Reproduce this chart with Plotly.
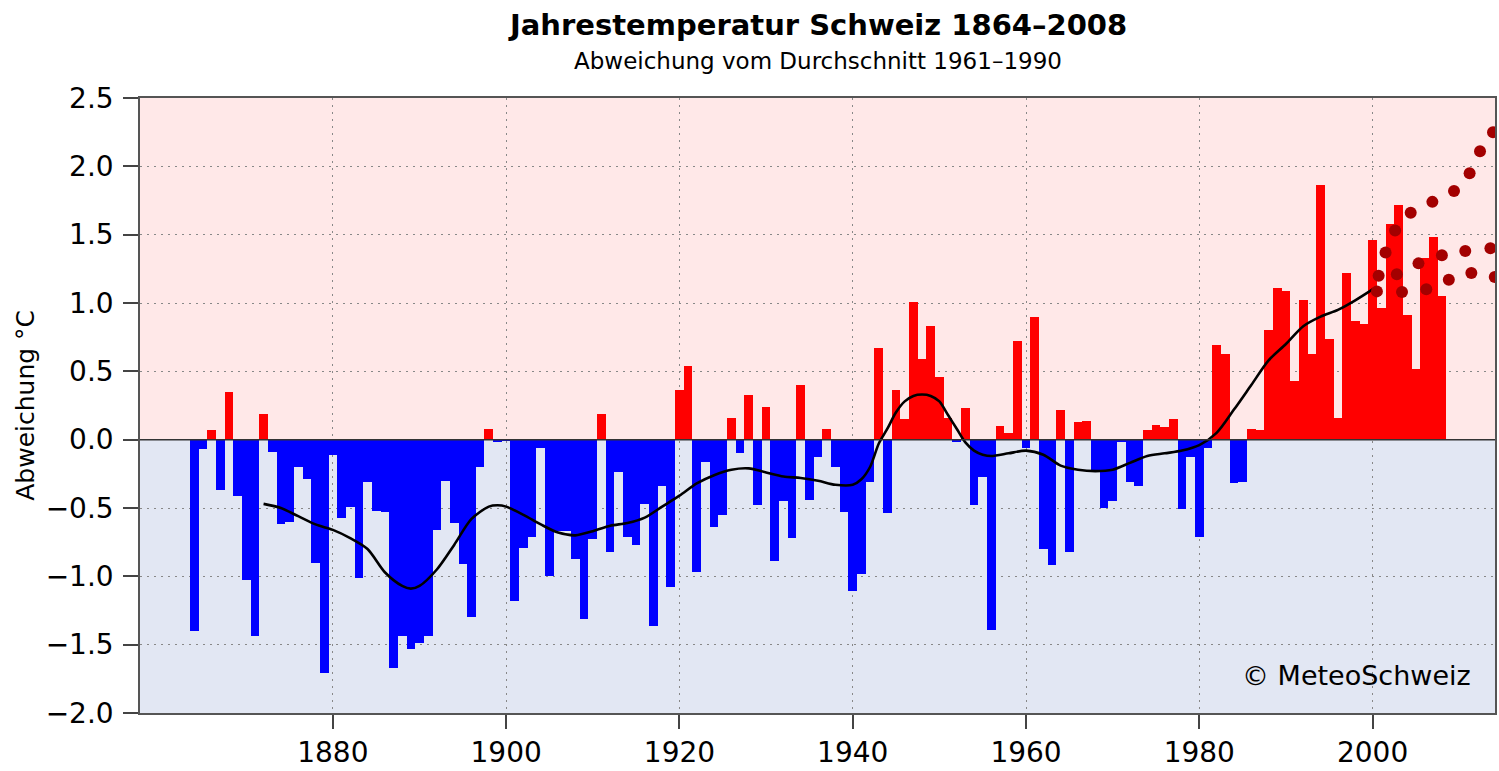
import plotly.graph_objects as go

# annual temperature deviation from 1961-1990 mean, Switzerland
years = list(range(1864, 2009))
anomaly = [
    -1.40, -0.07, 0.07, -0.37, 0.35, -0.41,                       # 1864-1869
    -1.03, -1.44, 0.19, -0.09, -0.62, -0.60, -0.20, -0.29, -0.90, -1.71,  # 1870s
    -0.11, -0.57, -0.49, -1.01, -0.31, -0.52, -0.53, -1.67, -1.44, -1.53,  # 1880s
    -1.49, -1.44, -0.66, -0.30, -0.61, -0.91, -1.30, -0.20, 0.08, -0.02,   # 1890s
    -0.01, -1.18, -0.79, -0.71, -0.06, -1.00, -0.67, -0.67, -0.87, -1.31,  # 1900s
    -0.73, 0.19, -0.82, -0.24, -0.71, -0.77, -0.47, -1.36, -0.34, -1.08,   # 1910s
    0.36, 0.54, -0.97, -0.16, -0.64, -0.55, 0.16, -0.10, 0.33, -0.48,      # 1920s
    0.24, -0.89, -0.45, -0.72, 0.40, -0.44, -0.13, 0.08, -0.20, -0.53,     # 1930s
    -1.11, -0.98, -0.31, 0.67, -0.54, 0.36, 0.15, 1.01, 0.59, 0.83,        # 1940s
    0.46, 0.16, -0.02, 0.23, -0.48, -0.27, -1.39, 0.10, 0.05, 0.72,        # 1950s
    -0.06, 0.90, -0.80, -0.92, 0.22, -0.82, 0.13, 0.14, -0.23, -0.50,      # 1960s
    -0.45, -0.02, -0.31, -0.34, 0.07, 0.11, 0.09, 0.15, -0.51, -0.13,      # 1970s
    -0.71, -0.06, 0.69, 0.63, -0.32, -0.31, 0.08, 0.07, 0.80, 1.11,        # 1980s
    1.09, 0.43, 1.02, 0.63, 1.86, 0.74, 0.16, 1.22, 0.87, 0.85,            # 1990s
    1.46, 0.96, 1.58, 1.72, 0.91, 0.52, 1.33, 1.48, 1.05,                  # 2000-2008
]

# smoothed curve
smooth_years = [1872, 1874, 1876, 1878, 1880, 1882, 1884, 1886, 1888, 1889, 1890,
                1892, 1894, 1896, 1898, 1899, 1900, 1902, 1904, 1906, 1908, 1910,
                1912, 1914, 1916, 1918, 1920, 1922, 1924, 1926, 1928, 1930, 1932,
                1934, 1936, 1938, 1940, 1941, 1942, 1943, 1944, 1945, 1946, 1947,
                1948, 1949, 1950, 1951, 1952, 1953, 1954, 1955, 1956, 1958, 1960,
                1962, 1964, 1966, 1968, 1970, 1972, 1974, 1976, 1978, 1980, 1982,
                1984, 1986, 1988, 1990, 1992, 1994, 1996, 1998, 2000]
smooth_values = [-0.47, -0.50, -0.56, -0.62, -0.66, -0.72, -0.80, -0.97, -1.07, -1.09, -1.07,
                 -0.95, -0.77, -0.58, -0.49, -0.48, -0.49, -0.55, -0.62, -0.68, -0.70, -0.67,
                 -0.63, -0.61, -0.57, -0.49, -0.41, -0.32, -0.26, -0.22, -0.21, -0.24, -0.27,
                 -0.28, -0.30, -0.33, -0.33, -0.29, -0.20, -0.03, 0.08, 0.20, 0.28, 0.32,
                 0.33, 0.32, 0.28, 0.18, 0.08, -0.02, -0.08, -0.11, -0.12, -0.10, -0.08,
                 -0.11, -0.19, -0.22, -0.23, -0.22, -0.17, -0.12, -0.10, -0.08, -0.04, 0.05,
                 0.22, 0.40, 0.58, 0.70, 0.83, 0.90, 0.95, 1.02, 1.10]

# dotted projections
high_years = [2000.7, 2001.5, 2002.6, 2004.4, 2006.9, 2009.4, 2011.2, 2012.4, 2013.9]
high_values = [1.20, 1.37, 1.53, 1.66, 1.74, 1.82, 1.95, 2.11, 2.25]
mid_years = [2002.8, 2005.3, 2008.0, 2010.7, 2013.6]
mid_values = [1.21, 1.29, 1.35, 1.38, 1.40]
low_years = [2000.5, 2003.4, 2006.2, 2008.8, 2011.4, 2014.1]
low_values = [1.085, 1.08, 1.10, 1.17, 1.22, 1.19]

x_ticks = [1880, 1900, 1920, 1940, 1960, 1980, 2000]
y_ticks = [-2.0, -1.5, -1.0, -0.5, 0.0, 0.5, 1.0, 1.5, 2.0, 2.5]

FONT = 'DejaVu Sans'
bar_colors = ['#ff0000' if v >= 0 else '#0000ff' for v in anomaly]

fig = go.Figure()
fig.add_trace(go.Bar(x=years, y=anomaly, width=1.0,
                     marker=dict(color=bar_colors, line=dict(width=0)),
                     hoverinfo='x+y'))
fig.add_trace(go.Scatter(x=smooth_years, y=smooth_values, mode='lines',
                         line=dict(color='black', width=2.6, shape='spline', smoothing=0.8)))
for xs, ys in [(high_years, high_values), (mid_years, mid_values), (low_years, low_values)]:
    fig.add_trace(go.Scatter(x=xs, y=ys, mode='markers',
                             marker=dict(color='#a30000', size=12, line=dict(width=0))))

# background bands and zero line
fig.add_shape(type='rect', xref='paper', x0=0, x1=1, yref='y', y0=0, y1=2.5,
              fillcolor='#ffe8e8', line=dict(width=0), layer='below')
fig.add_shape(type='rect', xref='paper', x0=0, x1=1, yref='y', y0=-2.0, y1=0,
              fillcolor='#e2e7f3', line=dict(width=0), layer='below')
fig.add_shape(type='line', xref='paper', x0=0, x1=1, yref='y', y0=0, y1=0,
              line=dict(color='#333333', width=1.5), layer='above')

fig.update_layout(
    width=1499, height=771,
    margin=dict(l=140, r=2, t=98, b=57),
    paper_bgcolor='white', plot_bgcolor='white',
    showlegend=False, bargap=0,
    font=dict(family=FONT, color='black'),
    xaxis=dict(range=[1857.74, 2014.13], tickvals=x_ticks, ticks='outside', ticklen=14,
               tickwidth=1.5, tickcolor='#444444', tickfont=dict(size=28),
               showgrid=True, gridcolor='#888888', gridwidth=1.2, griddash='2px,5px',
               showline=True, mirror=True, linecolor='#555555', linewidth=1.5,
               zeroline=False),
    yaxis=dict(range=[-2.0, 2.5], tickvals=y_ticks, tickformat='.1f', ticks='outside',
               ticklen=15, tickwidth=1.5, tickcolor='#444444', tickfont=dict(size=28),
               ticklabelstandoff=4,
               showgrid=True, gridcolor='#888888', gridwidth=1.2, griddash='2px,5px',
               showline=True, mirror=True, linecolor='#555555', linewidth=1.5,
               zeroline=False),
)

fig.add_annotation(text='<b>Jahrestemperatur Schweiz 1864–2008</b>', xref='paper', yref='paper',
                   x=0.5, y=1.1185, xanchor='center', yanchor='middle', showarrow=False,
                   font=dict(size=29, family=FONT))
fig.add_annotation(text='Abweichung vom Durchschnitt 1961–1990', xref='paper', yref='paper',
                   x=0.5, y=1.060, xanchor='center', yanchor='middle', showarrow=False,
                   font=dict(size=23, family=FONT))
fig.add_annotation(text='Abweichung °C', xref='paper', yref='paper', x=-0.0847, y=0.5,
                   xanchor='center', yanchor='middle', textangle=-90, showarrow=False,
                   font=dict(size=25, family=FONT))
fig.add_annotation(text='© MeteoSchweiz', xref='paper', yref='paper', x=0.8976, y=0.0617,
                   xanchor='center', yanchor='middle', showarrow=False,
                   font=dict(size=27, family=FONT))

# drop the default page margin so the figure sits at the window's top-left corner
fig.write_html("out.html", config={'displayModeBar': False},
               post_script="document.body.style.margin='0';")
